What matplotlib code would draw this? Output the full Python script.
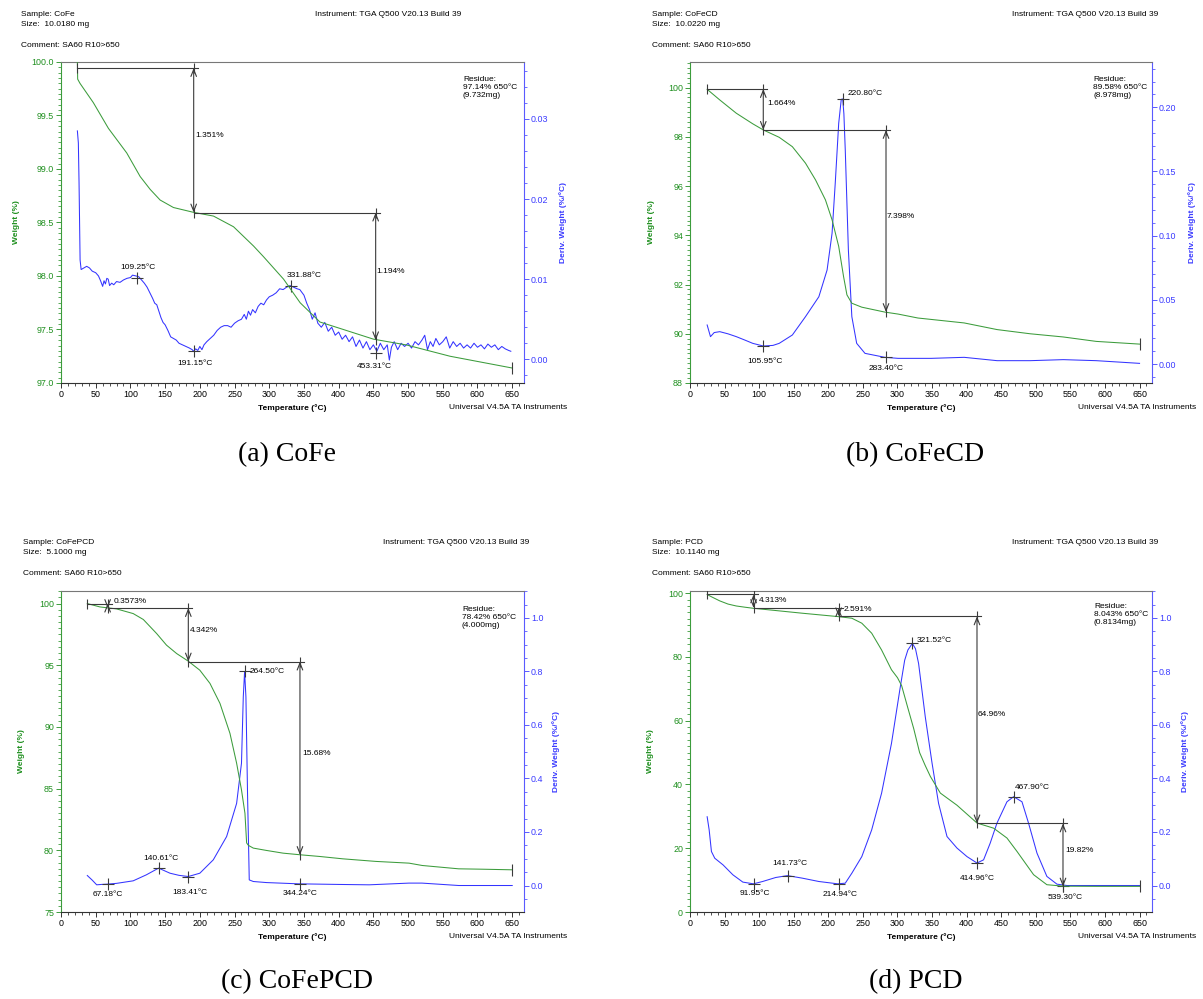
import matplotlib
matplotlib.use('Agg')
import matplotlib.pyplot as plt
from matplotlib.ticker import MultipleLocator, FixedLocator, FormatStrFormatter

plt.rcParams['font.family'] = ['Liberation Sans', 'DejaVu Sans']

# ---------------- data: (a) CoFe ----------------
a_w_temp = [23.6, 24.0, 27.4, 46.6, 68.3, 94.7, 114.0, 128.4, 142.8, 162.0, 190.9, 219.7, 248.6,
            277.4, 291.8, 320.7, 344.5, 373.0, 406.8, 450.0, 498.0, 560.5, 650.0]
a_weight = [100.0, 99.84, 99.80, 99.62, 99.38, 99.15, 98.93, 98.81, 98.71, 98.64, 98.595, 98.56, 98.46,
            98.28, 98.18, 97.97, 97.75, 97.57, 97.50, 97.41, 97.355, 97.25, 97.14]
a_d_temp = [23.6, 25, 26, 27.5, 29, 33, 37, 41, 45, 50, 54, 57, 60, 62, 64, 66, 68, 70, 73, 76, 80, 85, 90,
            95, 100, 103, 108, 112, 116, 120, 124, 128, 132, 135, 138, 141, 144, 147, 150, 154, 158, 162,
            166, 170, 175, 180, 185, 189, 191, 194, 197, 200, 203, 206, 210, 215, 220, 225, 230, 235, 240,
            245, 250, 255, 260, 264, 267, 270, 273, 276, 280, 284, 288, 292, 296, 300, 305, 310, 315, 320,
            325, 330, 335, 340, 344, 350, 354, 358, 362, 366, 370, 375, 380, 385, 390, 395, 400, 405, 410,
            415, 420, 425, 430, 435, 440, 445, 450, 455, 460, 465, 470, 473, 476, 480, 485, 490, 495, 500,
            505, 510, 515, 520, 524, 528, 532, 536, 540, 545, 550, 555, 560, 565, 570, 575, 580, 585, 590,
            595, 600, 605, 610, 615, 620, 625, 630, 635, 640, 645, 648]
a_deriv = [0.0285, 0.0270, 0.0220, 0.0124, 0.0112, 0.0114, 0.0116, 0.0114, 0.0110, 0.0108, 0.0104, 0.0098,
           0.0091, 0.0098, 0.0094, 0.0101, 0.0100, 0.0092, 0.0095, 0.0093, 0.0097, 0.0096, 0.0099, 0.0101,
           0.0102, 0.0105, 0.0104, 0.0103, 0.0099, 0.0095, 0.0090, 0.0083, 0.0076, 0.0070, 0.0068, 0.0060,
           0.0052, 0.0046, 0.0043, 0.0036, 0.0028, 0.0026, 0.0024, 0.0020, 0.0018, 0.0016, 0.0014, 0.0012,
           0.0010, 0.0013, 0.0011, 0.0016, 0.0012, 0.0018, 0.0022, 0.0026, 0.0030, 0.0036, 0.0040, 0.0042,
           0.0042, 0.0040, 0.0045, 0.0048, 0.0050, 0.0056, 0.0050, 0.0060, 0.0055, 0.0062, 0.0058, 0.0066,
           0.0070, 0.0068, 0.0074, 0.0078, 0.0080, 0.0083, 0.0088, 0.0087, 0.0090, 0.0092, 0.0090, 0.0088,
           0.0087, 0.0080, 0.0070, 0.0062, 0.0050, 0.0058, 0.0045, 0.0040, 0.0046, 0.0035, 0.0040, 0.0030,
           0.0034, 0.0025, 0.0030, 0.0022, 0.0028, 0.0016, 0.0024, 0.0014, 0.0022, 0.0012, 0.0018, 0.0010,
           0.0020, 0.0012, 0.0018, -0.0001, 0.0015, 0.0022, 0.0012, 0.0020, 0.0016, 0.0020, 0.0014, 0.0022,
           0.0018, 0.0024, 0.0030, 0.0012, 0.0022, 0.0016, 0.0026, 0.0018, 0.0022, 0.0028, 0.0014, 0.0022,
           0.0016, 0.0020, 0.0014, 0.0018, 0.0014, 0.0020, 0.0015, 0.0018, 0.0013, 0.0019, 0.0015, 0.0018,
           0.0012, 0.0016, 0.0013, 0.0011, 0.0010]
a_step_temp = [191.15, 453.31]
a_step_start = [23.6, 191.15]
a_step_high = [99.944, 98.593]
a_step_low = [98.593, 97.399]
a_step_labels = ['1.351%', '1.194%']
a_peak_temp = [109.25, 191.15, 331.88, 453.31]
a_peak_deriv = [0.0101, 0.0010, 0.0092, 0.0008]
a_peak_labels = ['109.25°C', '191.15°C', '331.88°C', '453.31°C']
a_residue = ['Residue:', '97.14% 650°C', '(9.732mg)']
a_end_weight = 97.14

# ---------------- data: (b) CoFeCD ----------------
b_w_temp = [24.8, 43, 66.9, 90.7, 106, 129, 148, 167, 181.5, 195.8, 205.4, 215, 222, 226.9, 234, 248.4,
            281.8, 300.9, 329.5, 396.4, 444, 491.8, 539.7, 587.4, 650]
b_weight = [99.93, 99.5, 98.96, 98.53, 98.28, 97.98, 97.6, 96.93, 96.25, 95.44, 94.63, 93.55, 92.33, 91.58,
            91.24, 91.08, 90.88, 90.80, 90.64, 90.44, 90.17, 90.0, 89.87, 89.69, 89.58]
b_d_temp = [24.8, 29.6, 35, 43, 55, 67, 80, 90.7, 106, 120, 129, 148, 167, 186.3, 198.2, 205.4, 210, 215,
            218.7, 220.8, 222.5, 224.5, 229, 234, 241, 253, 281.8, 300.9, 348.6, 396.4, 444, 491.8, 539.7,
            587.4, 650]
b_deriv = [0.0304, 0.0213, 0.0245, 0.0252, 0.0235, 0.0213, 0.0185, 0.0161, 0.0140, 0.0145, 0.0161, 0.0226,
           0.0369, 0.0524, 0.0732, 0.1018, 0.1408, 0.1875, 0.2062, 0.2065, 0.195, 0.1667, 0.0888, 0.0369,
           0.0161, 0.0083, 0.0052, 0.0044, 0.0044, 0.0052, 0.0026, 0.0026, 0.0034, 0.0026, 0.0005]
b_step_temp = [105.95, 283.40]
b_step_start = [24.8, 105.95]
b_step_high = [99.944, 98.280]
b_step_low = [98.280, 90.882]
b_step_labels = ['1.664%', '7.398%']
b_peak_temp = [220.80, 105.95, 283.40]
b_peak_deriv = [0.2065, 0.0140, 0.0052]
b_peak_labels = ['220.80°C', '105.95°C', '283.40°C']
b_residue = ['Residue:', '89.58% 650°C', '(8.978mg)']
b_end_weight = 89.58

# ---------------- data: (c) CoFePCD ----------------
c_w_temp = [37.9, 56, 80, 104, 118.6, 137.8, 152, 166.6, 183.4, 200, 214.6, 229, 243.4, 253, 260, 265,
            267.4, 270, 277, 296, 320, 344.2, 372.9, 406, 453.7, 501.4, 520.4, 572.9, 606, 650]
c_weight = [100.0, 99.73, 99.57, 99.19, 98.71, 97.57, 96.63, 95.95, 95.33, 94.6, 93.53, 91.91, 89.48, 87.06,
            84.9, 83.0, 80.6, 80.4, 80.18, 79.99, 79.77, 79.64, 79.5, 79.31, 79.1, 78.96, 78.77, 78.5,
            78.47, 78.42]
c_d_temp = [37.9, 45, 51.4, 58, 65.8, 80, 104, 123, 140.6, 157, 170, 183.4, 200, 219.4, 238.6, 253, 260,
            262.6, 264.5, 266.4, 268.8, 271.2, 277, 296, 341.8, 400, 444, 501.4, 520, 573, 650]
c_deriv = [0.0373, 0.020, 0.0026, 0.004, 0.005, 0.008, 0.0175, 0.040, 0.065, 0.046, 0.038, 0.0336, 0.046,
           0.096, 0.183, 0.307, 0.457, 0.705, 0.80, 0.705, 0.332, 0.021, 0.015, 0.011, 0.0063, 0.004,
           0.0026, 0.009, 0.009, 0.0, 0.0]
c_step_temp = [67.18, 183.41, 344.24]
c_step_start = [37.9, 67.18, 183.41]
c_step_high = [100.0, 99.64, 95.30]
c_step_low = [99.64, 95.30, 79.62]
c_step_labels = ['0.3573%', '4.342%', '15.68%']
c_peak_temp = [67.18, 140.61, 183.41, 264.50, 344.24]
c_peak_deriv = [0.005, 0.065, 0.0336, 0.80, 0.0063]
c_peak_labels = ['67.18°C', '140.61°C', '183.41°C', '264.50°C', '344.24°C']
c_residue = ['Residue:', '78.42% 650°C', '(4.000mg)']
c_end_weight = 78.42

# ---------------- data: (d) PCD ----------------
d_w_temp = [24.8, 30, 43, 55, 66.9, 80, 90.7, 114.6, 162.4, 213.5, 234, 248.4, 262.7, 277, 291.3, 300,
            306, 315, 323.5, 332, 340, 347.6, 362, 386, 415, 439, 458.3, 472.8, 496.8, 516, 540, 587.6, 650]
d_weight = [99.6, 99.0, 97.6, 96.6, 96.0, 95.6, 95.3, 94.78, 93.73, 92.68, 92.16, 90.6, 87.46, 82.2, 76.0,
            73.5, 71.0, 64.0, 57.5, 50.0, 46.0, 42.5, 37.3, 33.5, 27.9, 26.3, 23.2, 19.0, 11.7, 8.56, 8.1,
            8.05, 8.04]
d_d_temp = [24.8, 27.7, 31, 35.8, 47.8, 62, 76.4, 91.7, 105, 124, 141, 162.4, 186.3, 213.5, 224.5, 234,
            248.4, 262.7, 277, 291.3, 303.3, 310.4, 315, 321.5, 326, 330.5, 340.2, 350, 359.4, 371.6, 386,
            400.5, 415, 424.5, 434, 443.8, 458.3, 467.9, 480, 489.5, 501.7, 516, 530.6, 545, 650]
d_deriv = [0.257, 0.208, 0.127, 0.102, 0.077, 0.040, 0.0127, 0.0063, 0.015, 0.030, 0.037, 0.0275, 0.015,
           0.0063, 0.0087, 0.046, 0.108, 0.208, 0.345, 0.531, 0.730, 0.842, 0.88, 0.905, 0.885, 0.83, 0.63,
           0.457, 0.307, 0.183, 0.14, 0.108, 0.084, 0.096, 0.158, 0.233, 0.313, 0.332, 0.313, 0.233, 0.121,
           0.034, 0.005, 0.0, 0.0]
d_step_temp = [91.95, 214.94, 414.96, 539.30]
d_step_start = [24.8, 91.95, 214.94, 414.96]
d_step_high = [99.65, 95.34, 92.75, 27.79]
d_step_low = [95.34, 92.75, 27.79, 7.97]
d_step_labels = ['4.313%', '2.591%', '64.96%', '19.82%']
d_peak_temp = [91.95, 141.73, 214.94, 321.52, 467.90, 414.96, 539.30]
d_peak_deriv = [0.0063, 0.037, 0.0063, 0.905, 0.332, 0.084, 0.0]
d_peak_labels = ['91.95°C', '141.73°C', '214.94°C', '321.52°C', '467.90°C', '414.96°C', '539.30°C']
d_residue = ['Residue:', '8.043% 650°C', '(0.8134mg)']
d_end_weight = 8.043

samples = ['CoFe', 'CoFeCD', 'CoFePCD', 'PCD']
sizes = ['10.0180 mg', '10.0220 mg', '5.1000 mg', '10.1140 mg']
captions = ['(a) CoFe', '(b) CoFeCD', '(c) CoFePCD', '(d) PCD']

# ---------------- styling ----------------
W_PX, H_PX = 1203, 999
GREEN = '#3c9c3c'
GREEN_TXT = '#1e8f1e'
BLUE = '#3434ff'
BLUE_TXT = '#3a3aff'
GRAY = '#3a3a3a'
FS = 6.0

fig = plt.figure(figsize=(W_PX / 100, H_PX / 100), dpi=100)


def fx(x):
    return x / W_PX


def fy(y):
    return 1 - y / H_PX


def draw_panel(p):
    L, T, R, B = p['box']
    ax = fig.add_axes([fx(L), fy(B), (R - L) / W_PX, (B - T) / H_PX])
    ax2 = ax.twinx()
    ax.set_xlim(0, p['xmax'])
    ax.set_ylim(*p['wlim'])
    ax2.set_ylim(*p['dlim'])
    ax.set_zorder(2)
    ax.patch.set_visible(False)

    ax.plot(p['tw'], p['w'], color=GREEN, lw=0.75, zorder=3)
    ax2.plot(p['td'], p['d'], color=BLUE, lw=0.75, zorder=3)

    # spines
    ax.spines['left'].set_color(GREEN)
    ax.spines['top'].set_color('#777777')
    ax.spines['bottom'].set_color('#333333')
    ax.spines['right'].set_visible(False)
    for s in ['left', 'top', 'bottom']:
        ax2.spines[s].set_visible(False)
    ax2.spines['right'].set_color('#5a5aff')
    for sp in list(ax.spines.values()) + list(ax2.spines.values()):
        sp.set_linewidth(0.8)

    # ticks
    ax.set_xticks([t for t in range(0, 651, 50)])
    ax.xaxis.set_minor_locator(MultipleLocator(10))
    ax.yaxis.set_major_locator(FixedLocator(p['wticks']))
    ax.yaxis.set_minor_locator(MultipleLocator(p['wminor']))
    ax.yaxis.set_major_formatter(FormatStrFormatter(p['wfmt']))
    ax2.yaxis.set_major_locator(FixedLocator(p['dticks']))
    ax2.yaxis.set_minor_locator(MultipleLocator(p['dminor']))
    ax2.yaxis.set_major_formatter(FormatStrFormatter(p['dfmt']))
    LS = FS + 0.4
    ax.tick_params(axis='x', which='both', direction='out', colors='#333333', labelcolor='black',
                   labelsize=LS, pad=1.5)
    ax.tick_params(axis='x', which='major', length=3.5, width=0.7)
    ax.tick_params(axis='x', which='minor', length=2, width=0.6)
    ax.tick_params(axis='y', which='both', direction='out', colors=GREEN, labelcolor=GREEN_TXT,
                   labelsize=LS, pad=1.5)
    ax.tick_params(axis='y', which='major', length=3.5, width=0.7)
    ax.tick_params(axis='y', which='minor', length=2, width=0.6)
    ax2.tick_params(axis='y', which='both', direction='out', colors='#5a5aff', labelcolor=BLUE_TXT,
                    labelsize=LS, pad=1.5)
    ax2.tick_params(axis='y', which='major', length=3.5, width=0.7)
    ax2.tick_params(axis='y', which='minor', length=2, width=0.6)

    # axis labels
    ax.text(p['wlab_x'], 0.5, 'Weight (%)', transform=ax.transAxes, rotation=90, ha='center',
            va='center', color=GREEN_TXT, fontweight='bold', fontsize=FS)
    ax.text(p['dlab_x'], 0.5, 'Deriv. Weight (%/°C)', transform=ax.transAxes, rotation=90,
            ha='center', va='center', color=BLUE_TXT, fontweight='bold', fontsize=FS)
    ax.text(0.5, -0.077, 'Temperature (°C)', transform=ax.transAxes, ha='center', va='center',
            fontweight='bold', fontsize=FS)

    # step annotations on weight curve
    n = len(p['step_temp'])
    for i in range(n):
        Ta = p['step_temp'][i]
        hi = p['step_high'][i]
        lo = p['step_low'][i]
        st = p['step_start'][i]
        ax.plot([st, Ta + 6], [hi, hi], color=GRAY, lw=0.8, zorder=4)
        ax.annotate('', xy=(Ta, lo), xytext=(Ta, hi),
                    arrowprops=dict(arrowstyle='<->,head_length=0.5,head_width=0.2', color=GRAY, lw=0.8,
                                    shrinkA=0, shrinkB=0, mutation_scale=10), zorder=4)
        ax.plot([Ta, Ta], [hi, lo], ls='none', marker='|', ms=7, mew=0.8, color=GRAY, zorder=4)
        ax.annotate(p['step_labels'][i], xy=(Ta, p['step_lbl_y'][i]), xytext=(p['step_lbl_dx'][i], 0),
                    textcoords='offset pixels', ha='left', va='center', fontsize=FS, zorder=5)
    ax.plot([p['step_start'][0]], [p['step_high'][0]], ls='none', marker='|', ms=7, mew=0.8,
            color=GRAY, zorder=4)
    ax.plot([650], [p['end_weight']], ls='none', marker='|', ms=8, mew=0.8, color=GRAY, zorder=4)

    # peak markers on derivative curve
    for i in range(len(p['peak_temp'])):
        ax2.plot([p['peak_temp'][i]], [p['peak_deriv'][i]], ls='none', marker='+', ms=8, mew=0.8,
                 color=GRAY, zorder=4)
        dx, dy, ha = p['peak_off'][i]
        ax2.annotate(p['peak_labels'][i], xy=(p['peak_temp'][i], p['peak_deriv'][i]), xytext=(dx, dy),
                     textcoords='offset pixels', ha=ha, va='center', fontsize=FS, zorder=5)

    # residue box
    rx, ry = p['res_pos']
    fig.text(fx(rx), fy(ry), '\n'.join(p['residue']), ha='left', va='top', fontsize=FS,
             linespacing=1.2)

    # header
    hx, hy = p['head_pos']
    fig.text(fx(hx), fy(hy), 'Sample: ' + p['sample'], ha='left', va='top', fontsize=FS)
    fig.text(fx(hx), fy(hy + 10.5), 'Size:  ' + p['size'], ha='left', va='top', fontsize=FS)
    fig.text(fx(hx), fy(hy + 31), 'Comment: SA60 R10>650', ha='left', va='top', fontsize=FS)
    fig.text(fx(p['instr_right']), fy(hy), 'Instrument: TGA Q500 V20.13 Build 39', ha='right',
             va='top', fontsize=FS)
    ux, uy = p['univ_pos']
    fig.text(fx(ux), fy(uy), 'Universal V4.5A TA Instruments', ha='left', va='center', fontsize=FS)

    cx, cy = p['cap_pos']
    fig.text(fx(cx), fy(cy), p['caption'], ha='center', va='center', fontsize=20,
             family=['Liberation Serif', 'DejaVu Serif'])


panels = [
    dict(box=(61, 62, 524, 383), xmax=667, tw=a_w_temp, w=a_weight, td=a_d_temp, d=a_deriv,
         wlim=(97.0, 100.0), dlim=(-0.00296, 0.0371),
         wticks=[97.0, 97.5, 98.0, 98.5, 99.0, 99.5, 100.0], wminor=0.05, wfmt='%.1f',
         dticks=[0.0, 0.01, 0.02, 0.03], dminor=0.002, dfmt='%.2f',
         wlab_x=-0.097, dlab_x=1.085,
         step_temp=a_step_temp, step_start=a_step_start, step_high=a_step_high, step_low=a_step_low,
         step_labels=a_step_labels, step_lbl_y=[99.31, 98.04], step_lbl_dx=[2, 1],
         peak_temp=a_peak_temp, peak_deriv=a_peak_deriv, peak_labels=a_peak_labels,
         peak_off=[(1, 11, 'center'), (1, -12, 'center'), (13, 10, 'center'), (-1, -14, 'center')],
         residue=a_residue, end_weight=a_end_weight, res_pos=(463, 76),
         sample=samples[0], size=sizes[0], head_pos=(21, 11), instr_right=461,
         univ_pos=(449, 407.5), caption=captions[0], cap_pos=(286.5, 455)),
    dict(box=(690, 62, 1152, 383), xmax=668, tw=b_w_temp, w=b_weight, td=b_d_temp, d=b_deriv,
         wlim=(88.0, 101.04), dlim=(-0.0148, 0.2353),
         wticks=[88, 90, 92, 94, 96, 98, 100], wminor=0.2, wfmt='%d',
         dticks=[0.0, 0.05, 0.10, 0.15, 0.20], dminor=0.01, dfmt='%.2f',
         wlab_x=-0.084, dlab_x=1.086,
         step_temp=b_step_temp, step_start=b_step_start, step_high=b_step_high, step_low=b_step_low,
         step_labels=b_step_labels, step_lbl_y=[99.34, 94.76], step_lbl_dx=[4, 1],
         peak_temp=b_peak_temp, peak_deriv=b_peak_deriv, peak_labels=b_peak_labels,
         peak_off=[(5, 5, 'left'), (2, -15, 'center'), (0, -11, 'center')],
         residue=b_residue, end_weight=b_end_weight, res_pos=(1093, 76),
         sample=samples[1], size=sizes[1], head_pos=(652, 11), instr_right=1158,
         univ_pos=(1078, 407.5), caption=captions[1], cap_pos=(915, 455)),
    dict(box=(61, 591, 524, 912), xmax=667, tw=c_w_temp, w=c_weight, td=c_d_temp, d=c_deriv,
         wlim=(75.0, 101.02), dlim=(-0.099, 1.1007),
         wticks=[75, 80, 85, 90, 95, 100], wminor=0.5, wfmt='%d',
         dticks=[0.0, 0.2, 0.4, 0.6, 0.8, 1.0], dminor=0.05, dfmt='%.1f',
         wlab_x=-0.085, dlab_x=1.069,
         step_temp=c_step_temp, step_start=c_step_start, step_high=c_step_high, step_low=c_step_low,
         step_labels=c_step_labels, step_lbl_y=[100.2, 97.84, 87.86], step_lbl_dx=[6, 1, 2],
         peak_temp=c_peak_temp, peak_deriv=c_peak_deriv, peak_labels=c_peak_labels,
         peak_off=[(0, -10, 'center'), (2, 10, 'center'), (2, -16, 'center'), (5, 0, 'left'),
                   (0, -10, 'center')],
         residue=c_residue, end_weight=c_end_weight, res_pos=(462, 606),
         sample=samples[2], size=sizes[2], head_pos=(23, 539), instr_right=529,
         univ_pos=(449, 936.5), caption=captions[2], cap_pos=(297, 982)),
    dict(box=(690, 591, 1152, 912), xmax=668, tw=d_w_temp, w=d_weight, td=d_d_temp, d=d_deriv,
         wlim=(0.0, 100.7), dlim=(-0.099, 1.1007),
         wticks=[0, 20, 40, 60, 80, 100], wminor=2, wfmt='%d',
         dticks=[0.0, 0.2, 0.4, 0.6, 0.8, 1.0], dminor=0.05, dfmt='%.1f',
         wlab_x=-0.085, dlab_x=1.071,
         step_temp=d_step_temp, step_start=d_step_start, step_high=d_step_high, step_low=d_step_low,
         step_labels=d_step_labels, step_lbl_y=[97.8, 94.8, 61.9, 19.3], step_lbl_dx=[5, 5, 1, 2],
         peak_temp=d_peak_temp, peak_deriv=d_peak_deriv, peak_labels=d_peak_labels,
         peak_off=[(1, -10, 'center'), (2, 12, 'center'), (1, -11, 'center'), (4, 3, 'left'),
                   (1, 9, 'left'), (0, -15, 'center'), (2, -12, 'center')],
         residue=d_residue, end_weight=d_end_weight, res_pos=(1094, 603),
         sample=samples[3], size=sizes[3], head_pos=(652, 539), instr_right=1158,
         univ_pos=(1078, 936.5), caption=captions[3], cap_pos=(916, 982)),
]

for p in panels:
    draw_panel(p)

fig.savefig('out.png', dpi=100)
